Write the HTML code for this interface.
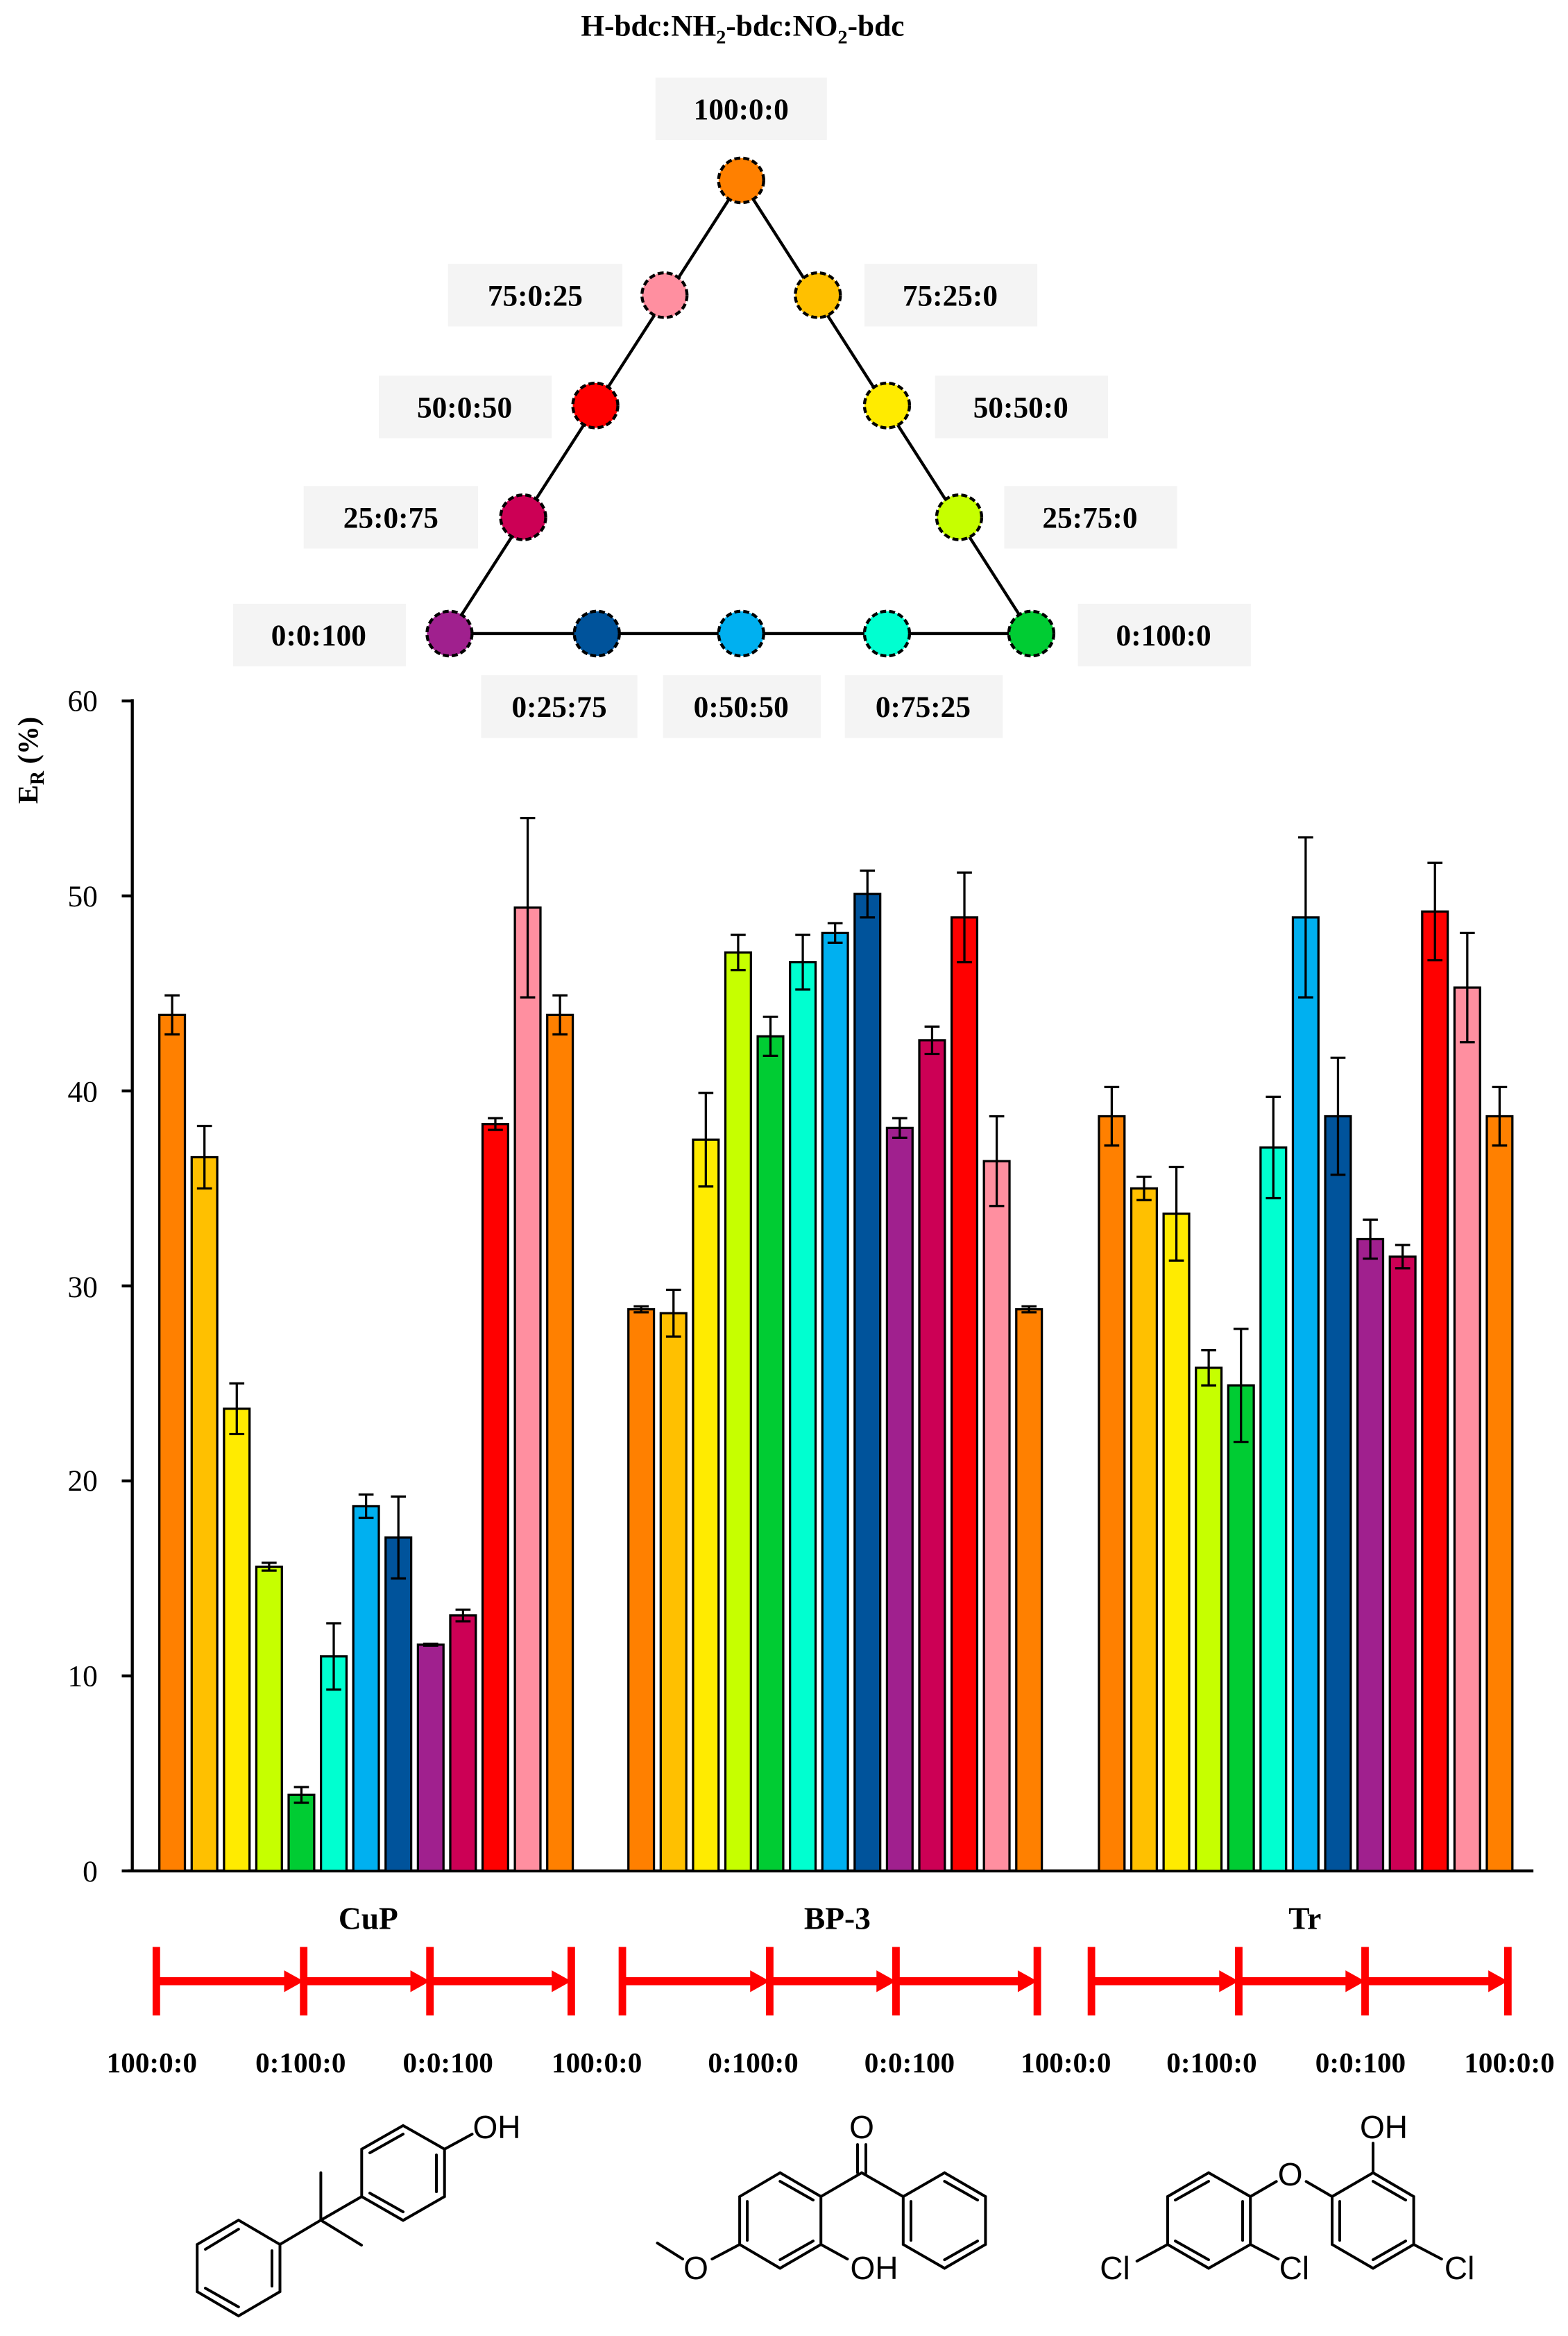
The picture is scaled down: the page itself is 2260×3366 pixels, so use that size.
<!DOCTYPE html>
<html><head><meta charset="utf-8"><style>
html,body{margin:0;padding:0;background:#fff;}
svg{display:block;}
text{font-family:"Liberation Serif",serif;}
text.sans{font-family:"Liberation Sans",sans-serif;}
</style></head><body>
<svg width="2260" height="3366" viewBox="0 0 1043 1567" preserveAspectRatio="none" xmlns="http://www.w3.org/2000/svg">
<rect width="1043" height="1567" fill="#fff"/>
<text x="494" y="24" font-size="20" font-weight="bold" text-anchor="middle">H-bdc:NH<tspan font-size="13" dy="5">2</tspan><tspan dy="-5">-bdc:NO</tspan><tspan font-size="13" dy="5">2</tspan><tspan dy="-5">-bdc</tspan></text>
<g fill="#f4f4f4">
<rect x="436" y="52" width="114" height="42"/>
<rect x="298" y="177" width="116" height="42"/>
<rect x="575" y="177" width="115" height="42"/>
<rect x="252" y="252" width="115" height="42"/>
<rect x="622" y="252" width="115" height="42"/>
<rect x="202" y="326" width="116" height="42"/>
<rect x="668" y="326" width="115" height="42"/>
<rect x="155" y="405" width="115" height="42"/>
<rect x="717" y="405" width="115" height="42"/>
<rect x="320" y="453" width="104" height="42"/>
<rect x="441" y="453" width="105" height="42"/>
<rect x="562" y="453" width="105" height="42"/>
</g>
<g font-size="20" font-weight="bold" text-anchor="middle">
<text x="493" y="80">100:0:0</text>
<text x="356" y="205">75:0:25</text>
<text x="632" y="205">75:25:0</text>
<text x="309" y="280">50:0:50</text>
<text x="679" y="280">50:50:0</text>
<text x="260" y="354">25:0:75</text>
<text x="725" y="354">25:75:0</text>
<text x="212" y="433">0:0:100</text>
<text x="774" y="433">0:100:0</text>
<text x="372" y="481">0:25:75</text>
<text x="493" y="481">0:50:50</text>
<text x="614" y="481">0:75:25</text>
</g>
<g stroke="#000" stroke-width="2" fill="none">
<path d="M493 121 L299 425 L686 425 Z"/>
</g>
<g stroke="#000" stroke-width="2" stroke-dasharray="4 2">
<circle cx="493" cy="121" r="15" fill="#FF8000"/>
<circle cx="442" cy="198" r="15" fill="#FF8FA0"/>
<circle cx="544" cy="198" r="15" fill="#FFC000"/>
<circle cx="396" cy="272" r="15" fill="#FF0000"/>
<circle cx="590" cy="272" r="15" fill="#FFEB00"/>
<circle cx="348" cy="347" r="15" fill="#CC0055"/>
<circle cx="638" cy="347" r="15" fill="#C6FF00"/>
<circle cx="299" cy="425" r="15" fill="#A0208E"/>
<circle cx="397" cy="425" r="15" fill="#00539B"/>
<circle cx="493" cy="425" r="15" fill="#00B0F0"/>
<circle cx="590" cy="425" r="15" fill="#00FFD0"/>
<circle cx="686" cy="425" r="15" fill="#00CC33"/>
</g>
<g stroke="#000" stroke-width="2">
<line x1="88" y1="469" x2="88" y2="1256"/>
<line x1="85" y1="1255" x2="1020" y2="1255"/>
<line x1="81" y1="470.2" x2="88" y2="470.2"/>
<line x1="81" y1="601" x2="88" y2="601"/>
<line x1="81" y1="731.8" x2="88" y2="731.8"/>
<line x1="81" y1="862.6" x2="88" y2="862.6"/>
<line x1="81" y1="993.4" x2="88" y2="993.4"/>
<line x1="81" y1="1124.2" x2="88" y2="1124.2"/>
<line x1="81" y1="1255" x2="88" y2="1255"/>
</g>
<g font-size="20" text-anchor="end">
<text x="65" y="477">60</text>
<text x="65" y="608">50</text>
<text x="65" y="739">40</text>
<text x="65" y="870">30</text>
<text x="65" y="1000">20</text>
<text x="65" y="1131">10</text>
<text x="65" y="1262">0</text>
</g>
<text transform="translate(25,510) rotate(-90)" font-size="19" font-weight="bold" text-anchor="middle">E<tspan font-size="13" dy="4">R</tspan><tspan dy="-4"> (%)</tspan></text>
<g id="bars" stroke="#000" stroke-width="1.5"></g>
<g font-size="21" font-weight="bold" text-anchor="middle">
<text x="245" y="1294">CuP</text>
<text x="557" y="1294">BP-3</text>
<text x="868" y="1294">Tr</text>
</g>
<g id="arrows" fill="#f00"></g>
<g font-size="19" font-weight="bold" text-anchor="middle">
<text x="101" y="1390">100:0:0</text>
<text x="200" y="1390">0:100:0</text>
<text x="298" y="1390">0:0:100</text>
<text x="397" y="1390">100:0:0</text>
<text x="501" y="1390">0:100:0</text>
<text x="605" y="1390">0:0:100</text>
<text x="709" y="1390">100:0:0</text>
<text x="806" y="1390">0:100:0</text>
<text x="905" y="1390">0:0:100</text>
<text x="1004" y="1390">100:0:0</text>
</g>
<g transform="scale(0.46151,0.46555)">
<g stroke="#000" stroke-width="4" fill="none" stroke-linecap="round">
<path d="M343.8 3199 L403.5 3234 L403.5 3302 L343.8 3337 L284.2 3302 L284.2 3234 Z"/>
<path d="M392 3243 L392 3294 M343.8 3324 L296 3297 M296 3241 L343.8 3212"/>
<path d="M403.5 3234 L462.4 3199 M462.4 3130.7 L462.4 3199 L521 3235 M462.4 3199 L521.3 3165"/>
<path d="M521.3 3165 L581 3199.3 L640.7 3165 L640.7 3096.7 L581 3062.7 L521.3 3096.7 Z"/>
<path d="M533 3160 L581 3187 M629 3105 L629 3158 M533 3102 L581 3075"/>
<path d="M640.7 3096.7 L680.5 3075"/>
<path d="M1124.3 3130.7 L1183.2 3165 L1183.2 3234 L1124.3 3268.3 L1066.1 3234 L1066.1 3165 Z"/>
<path d="M1124.3 3143 L1172 3170 M1172 3229 L1124.3 3256 M1077 3172 L1077 3228"/>
<path d="M1183.2 3165 L1242 3130.7 L1301.8 3165 M1236 3130.7 L1236 3090 M1248 3130.7 L1248 3090"/>
<path d="M1301.8 3165 L1361.4 3130.7 L1420.4 3165 L1420.4 3234 L1361.4 3268.3 L1301.8 3234 Z"/>
<path d="M1361.4 3143 L1409 3170 M1409 3229 L1361.4 3256 M1313 3172 L1313 3228"/>
<path d="M1183.2 3234 L1221.4 3255 M1066.1 3234 L1026.3 3255 M984 3255 L947.5 3232"/>
<path d="M1742 3130.7 L1802.2 3165 L1802.2 3234 L1742 3268.3 L1682.9 3234 L1682.9 3165 Z"/>
<path d="M1742 3143 L1694 3170 M1791 3172 L1791 3228 M1742 3256 L1694 3229"/>
<path d="M1979 3130.7 L2037.6 3165 L2037.6 3234 L1979 3268.3 L1920 3234 L1920 3165 Z"/>
<path d="M1979 3143 L2026 3170 M1979 3256 L2026 3229 M1931 3172 L1931 3228"/>
<path d="M1802.2 3165 L1839.6 3143.3 M1882.6 3143.3 L1920 3165 M1979 3130.7 L1979 3088"/>
<path d="M1682.9 3234 L1638.7 3258 M1802.2 3234 L1842.4 3255 M2037.6 3234 L2077.8 3255"/>
</g>
<g font-size="46" text-anchor="middle">
<text class="sans" x="716" y="3081">OH</text>
<text class="sans" x="1242" y="3081">O</text>
<text class="sans" x="1260" y="3284">OH</text>
<text class="sans" x="1003" y="3284">O</text>
<text class="sans" x="1859.6" y="3149">O</text>
<text class="sans" x="1994.5" y="3081">OH</text>
<text class="sans" x="1607" y="3284">Cl</text>
<text class="sans" x="1865.4" y="3284">Cl</text>
<text class="sans" x="2103.6" y="3284">Cl</text>
</g>
</g>
<script>
(function(){
var ns="http://www.w3.org/2000/svg";
var cols=["#FF8000","#FFC000","#FFEB00","#C6FF00","#00CC33","#00FFD0","#00B0F0","#00539B","#A0208E","#CC0055","#FF0000","#FF8FA0","#FF8000"];
var data=[
[[43.9,1],[36.6,1.6],[23.7,1.3],[15.6,0.2],[3.9,0.4],[11,1.7],[18.7,0.6],[17.1,2.1],[11.6,0.05],[13.1,0.3],[38.3,0.3],[49.4,4.6],[43.9,1]],
[[28.8,0.15],[28.6,1.2],[37.5,2.4],[47.1,0.9],[42.8,1],[46.6,1.4],[48.1,0.5],[50.1,1.2],[38.1,0.5],[42.6,0.7],[48.9,2.3],[36.4,2.3],[28.8,0.15]],
[[38.7,1.5],[35,0.6],[33.7,2.4],[25.8,0.9],[24.9,2.9],[37.1,2.6],[48.9,4.1],[38.7,3],[32.4,1],[31.5,0.6],[49.2,2.5],[45.3,2.8],[38.7,1.5]]];
var starts=[106,418,731], pitch=21.5, w=17;
function Y(v){return 1255-13.08*v;}
var g=document.getElementById("bars");
function el(t,a,p){var e=document.createElementNS(ns,t);for(var k in a)e.setAttribute(k,a[k]);(p||g).appendChild(e);return e;}
for(var gi=0;gi<3;gi++){for(var i=0;i<13;i++){
var x=starts[gi]+i*pitch,v=data[gi][i][0],e=data[gi][i][1];
el("rect",{x:x,y:Y(v),width:w,height:Y(0)-Y(v),fill:cols[i]});
var cx=x+w/2;
el("line",{x1:cx,y1:Y(v+e),x2:cx,y2:Y(v-e)});
el("line",{x1:cx-5,y1:Y(v+e),x2:cx+5,y2:Y(v+e)});
el("line",{x1:cx-5,y1:Y(v-e),x2:cx+5,y2:Y(v-e)});
}}
var a=document.getElementById("arrows");
var sets=[[104,202,286,380],[414,512,596,690],[726,824,908,1003]];
var ay=1329;
sets.forEach(function(s){
s.forEach(function(x){el("rect",{x:x-2.5,y:1306,width:5,height:46},a);});
for(var j=0;j<3;j++){
var x1=s[j],x2=s[j+1];
el("rect",{x:x1,y:ay-2.7,width:x2-x1-12,height:5.4},a);
el("polygon",{points:(x2-13)+","+(ay-7.3)+" "+x2+","+ay+" "+(x2-13)+","+(ay+7.3)},a);
}
});
})();
</script>
</svg>
</body></html>
